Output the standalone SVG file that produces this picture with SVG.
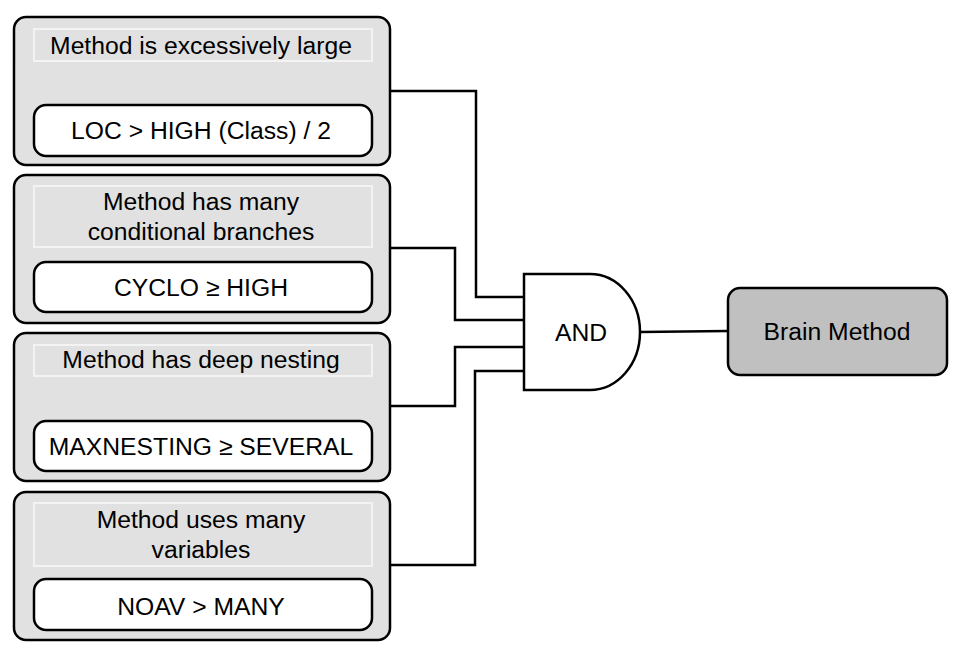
<svg xmlns="http://www.w3.org/2000/svg" width="965" height="654" viewBox="0 0 965 654">
<style>
text{font-family:"Liberation Sans",Arial,sans-serif;font-size:24.7px;fill:#000;text-anchor:middle}
.outer{fill:#e1e1e1;stroke:#000;stroke-width:2.5}
.title{fill:#e1e1e1;stroke:#f3f3f3;stroke-width:2}
.cond{fill:#fff;stroke:#000;stroke-width:2.5}
.wire{fill:none;stroke:#000;stroke-width:2.5}
</style>
<rect width="965" height="654" fill="#fff"/>
<g id="connectors">
<polyline class="wire" points="390,91 476,91 476,297 526,297"/>
<polyline class="wire" points="390,248 455,248 455,320 524,320"/>
<polyline class="wire" points="390,406 455,406 455,347 524,347"/>
<polyline class="wire" points="390,565 475,565 475,371 524,371"/>
<polyline class="wire" points="640,332 728,331"/>
</g>
<g id="node-large">
<rect class="outer" x="14" y="17" width="376" height="148" rx="12"/>
<rect class="title" x="34" y="29" width="338" height="32"/>
<text x="201" y="54">Method is excessively large</text>
<rect class="cond" x="34" y="105" width="338" height="51" rx="12"/>
<text x="201" y="139">LOC &gt; HIGH (Class) / 2</text>
</g>
<g id="node-branches">
<rect class="outer" x="14" y="175" width="376" height="148" rx="12"/>
<rect class="title" x="34" y="186" width="338" height="61"/>
<text x="201" y="210">Method has many</text>
<text x="201" y="240">conditional branches</text>
<rect class="cond" x="34" y="262" width="338" height="50" rx="12"/>
<text x="201" y="296">CYCLO ≥ HIGH</text>
</g>
<g id="node-nesting">
<rect class="outer" x="14" y="333" width="376" height="148" rx="12"/>
<rect class="title" x="34" y="345" width="338" height="31"/>
<text x="201" y="368">Method has deep nesting</text>
<rect class="cond" x="34" y="421" width="338" height="50" rx="12"/>
<text x="201" y="455">MAXNESTING ≥ SEVERAL</text>
</g>
<g id="node-variables">
<rect class="outer" x="14" y="492" width="376" height="148" rx="12"/>
<rect class="title" x="34" y="503" width="338" height="63"/>
<text x="201" y="528">Method uses many</text>
<text x="201" y="558">variables</text>
<rect class="cond" x="34" y="579" width="338" height="51" rx="12"/>
<text x="201" y="615">NOAV &gt; MANY</text>
</g>
<g id="node-and">
<path d="M524,274 H590 A50,58 0 0 1 590,390 H524 Z" fill="#fff" stroke="#000" stroke-width="2.5"/>
<text x="581" y="341">AND</text>
</g>
<g id="node-brain">
<rect x="728" y="288" width="219" height="87" rx="12" fill="#c0c0c0" stroke="#000" stroke-width="2.5"/>
<text x="837" y="340">Brain Method</text>
</g>
</svg>
